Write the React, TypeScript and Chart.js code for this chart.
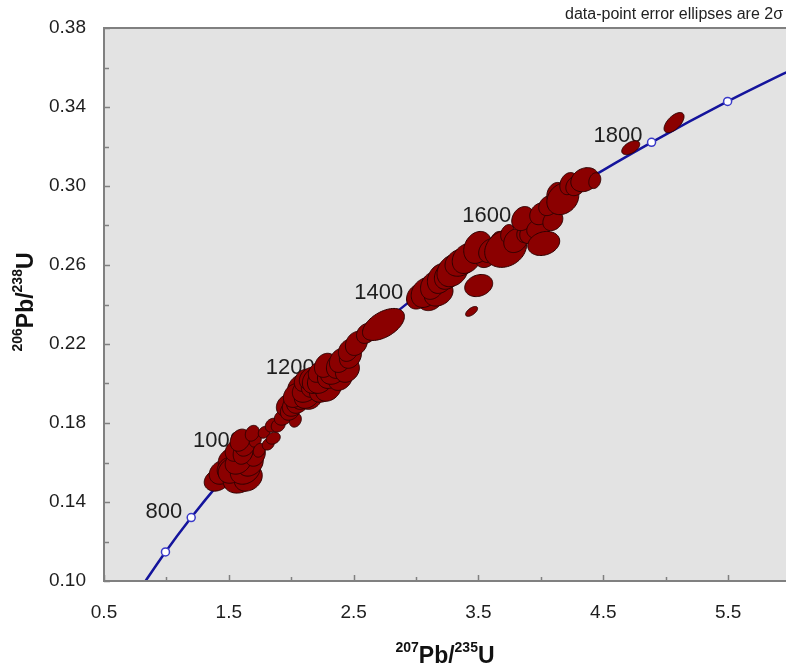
import { useEffect, useRef } from 'react';
import { Chart, registerables } from 'chart.js';

Chart.register(...registerables);

const FONT = '"Liberation Sans", Arial, Helvetica, sans-serif';

// Concordia curve nodes (age in Ma, 207Pb/235U, 206Pb/238U)
const concordiaAges = [600, 700, 800, 900, 1000, 1100, 1200, 1300, 1400, 1500, 1600, 1700, 1800, 1900, 2000];
const concordiaX = [0.8056, 0.9925, 1.1987, 1.4263, 1.6774, 1.9545, 2.2603, 2.5977, 2.9701, 3.381, 3.8346, 4.335, 4.8869, 5.4962, 6.1684];
const concordiaY = [0.0975, 0.1147, 0.1321, 0.1498, 0.1678, 0.1861, 0.2046, 0.2234, 0.2426, 0.262, 0.2817, 0.3018, 0.3221, 0.3428, 0.3638];
const labeledAges = [800, 1000, 1200, 1400, 1600, 1800];

// Data-point error ellipses: centre, 2-sigma half extents, error correlation
const ellipseX = [
  1.407, 1.447, 1.511, 1.495, 1.591, 1.656, 1.527, 1.632, 1.672, 1.575, 1.559, 1.712, 1.615, 1.632, 1.591, 1.712, 1.744, 1.688, 1.784, 1.816, 1.856,
  1.848, 1.896, 1.937, 2.033, 1.969, 1.993, 2.017, 2.057, 2.089, 2.153, 2.073, 2.033, 2.129, 2.113, 2.105, 2.177, 2.25, 2.298, 2.153, 2.193, 2.234,
  2.217, 2.314, 2.394, 2.338, 2.274, 2.378, 2.45, 2.394, 2.474, 2.458, 2.522, 2.603, 2.739,
  3.116, 3.02, 3.076, 3.181, 3.132, 3.197, 3.253, 3.293, 3.357, 3.405, 3.558, 3.494, 3.598, 3.654, 3.718, 3.734, 3.502, 3.445,
  3.799, 3.887, 3.919, 3.855, 3.983, 3.999, 4.023, 4.096, 4.063, 4.12, 4.176, 4.224, 4.28, 4.352, 4.432, 4.72, 5.067,
];
const ellipseY = [
  0.1511, 0.1551, 0.1612, 0.1571, 0.1521, 0.1521, 0.1561, 0.1561, 0.1597, 0.1602, 0.1662, 0.1637, 0.1652, 0.1688, 0.1713, 0.1713, 0.1662, 0.1748, 0.1753, 0.1693, 0.1723,
  0.1789, 0.1789, 0.1829, 0.1814, 0.189, 0.1865, 0.189, 0.1915, 0.1925, 0.1915, 0.1976, 0.194, 0.194, 0.1966, 0.2016, 0.1991, 0.1966, 0.1976, 0.2026, 0.2016, 0.2016,
  0.2057, 0.2041, 0.2026, 0.2057, 0.2092, 0.2092, 0.2067, 0.2117, 0.2138, 0.2168, 0.2203, 0.2254, 0.2299,
  0.242, 0.2441, 0.2461, 0.2456, 0.2496, 0.2532, 0.2547, 0.2572, 0.2613, 0.2633, 0.2633, 0.2689, 0.2673, 0.2714, 0.2684, 0.2759, 0.2496, 0.2365,
  0.2724, 0.2764, 0.2764, 0.2835, 0.2785, 0.286, 0.2709, 0.2825, 0.2901, 0.2962, 0.2936, 0.3012, 0.3002, 0.3032, 0.3027, 0.3194, 0.3321,
];
const ellipseErrX = [
  0.104, 0.104, 0.096, 0.088, 0.136, 0.112, 0.112, 0.12, 0.104, 0.104, 0.088, 0.08, 0.08, 0.08, 0.08, 0.048, 0.048, 0.056, 0.048, 0.048, 0.056,
  0.056, 0.056, 0.072, 0.048, 0.088, 0.08, 0.088, 0.096, 0.088, 0.088, 0.104, 0.096, 0.104, 0.104, 0.08, 0.096, 0.104, 0.104, 0.088, 0.104, 0.104,
  0.08, 0.104, 0.096, 0.104, 0.088, 0.096, 0.096, 0.088, 0.088, 0.08, 0.088, 0.08, 0.168,
  0.096, 0.096, 0.115, 0.115, 0.096, 0.106, 0.106, 0.125, 0.125, 0.115, 0.08, 0.112, 0.096, 0.064, 0.168, 0.056, 0.112, 0.048,
  0.096, 0.08, 0.088, 0.088, 0.096, 0.088, 0.128, 0.08, 0.08, 0.072, 0.128, 0.072, 0.08, 0.112, 0.048, 0.072, 0.08,
];
const ellipseErrY = [
  0.0056, 0.0061, 0.0061, 0.0056, 0.0076, 0.0066, 0.0066, 0.0071, 0.0066, 0.0061, 0.0056, 0.0056, 0.0061, 0.0056, 0.0056, 0.0035, 0.0035, 0.004, 0.003, 0.003, 0.003,
  0.0035, 0.0035, 0.004, 0.0035, 0.0056, 0.0051, 0.0056, 0.0066, 0.0056, 0.0046, 0.0071, 0.0061, 0.0066, 0.0061, 0.0056, 0.0061, 0.0061, 0.0066, 0.0056, 0.0066, 0.0066,
  0.0051, 0.0066, 0.0061, 0.0061, 0.0061, 0.0066, 0.0061, 0.0061, 0.0061, 0.0056, 0.0061, 0.0051, 0.0081,
  0.0051, 0.0064, 0.0076, 0.0064, 0.007, 0.0076, 0.007, 0.0082, 0.007, 0.0076, 0.0046, 0.0081, 0.0061, 0.0056, 0.0096, 0.0046, 0.0056, 0.0025,
  0.0061, 0.0051, 0.0056, 0.0061, 0.0051, 0.0056, 0.0061, 0.0051, 0.0051, 0.0056, 0.0081, 0.0056, 0.0051, 0.0061, 0.004, 0.0035, 0.0051,
];
const ellipseRho = [
  0.2, 0.2, 0.2, 0.2, 0.2, 0.2, 0.2, 0.2, 0.2, 0.2, 0.2, 0.2, 0.2, 0.2, 0.2, 0.2, 0.2, 0.2, 0.2, 0.2, 0.2,
  0.2, 0.2, 0.2, 0.2, 0.2, 0.2, 0.2, 0.2, 0.2, 0.2, 0.2, 0.2, 0.2, 0.2, 0.2, 0.2, 0.2, 0.2, 0.2, 0.2, 0.2,
  0.2, 0.2, 0.2, 0.2, 0.2, 0.2, 0.2, 0.2, 0.2, 0.2, 0.2, 0.2, 0.5,
  0.2, 0.2, 0.2, 0.2, 0.2, 0.2, 0.2, 0.2, 0.2, 0.2, 0.2, 0.2, 0.2, 0.2, 0.2, 0.2, 0.2, 0.6,
  0.2, 0.2, 0.2, 0.2, 0.2, 0.2, 0.2, 0.2, 0.2, 0.2, 0.2, 0.2, 0.2, 0.2, 0.2, 0.5, 0.6,
];

const AXIS_COLOR = '#808080';
const TEXT_COLOR = '#1e1e1e';

function drawRich(ctx: CanvasRenderingContext2D, parts: [string, boolean][], cx: number, cy: number, big: number, small: number) {
  let total = 0;
  const widths = parts.map(([t, sup]) => {
    ctx.font = `bold ${sup ? small : big}px ${FONT}`;
    const w = ctx.measureText(t).width;
    total += w;
    return w;
  });
  let x = cx - total / 2;
  ctx.textAlign = 'left';
  ctx.textBaseline = 'alphabetic';
  parts.forEach(([t, sup], i) => {
    ctx.font = `bold ${sup ? small : big}px ${FONT}`;
    ctx.fillText(t, x, sup ? cy - big * 0.5 : cy);
    x += widths[i];
  });
}

const concordiaPlugin = {
  id: 'concordiaPlugin',
  beforeDatasetsDraw(chart: any) {
    const { ctx, chartArea: a } = chart;
    ctx.save();
    ctx.fillStyle = '#e3e3e3';
    ctx.fillRect(a.left, a.top, a.right - a.left, a.bottom - a.top);
    ctx.restore();
  },
  afterDatasetsDraw(chart: any) {
    const { ctx, chartArea: a, scales } = chart;
    const xs = scales.x;
    const ys = scales.y;
    ctx.save();
    ctx.beginPath();
    ctx.rect(a.left, a.top, a.right - a.left, a.bottom - a.top);
    ctx.clip();

    ctx.fillStyle = TEXT_COLOR;
    ctx.font = `22px ${FONT}`;
    ctx.textAlign = 'right';
    ctx.textBaseline = 'alphabetic';
    labeledAges.forEach((age) => {
      const i = concordiaAges.indexOf(age);
      if (i < 0) return;
      const px = xs.getPixelForValue(concordiaX[i]);
      const py = ys.getPixelForValue(concordiaY[i]);
      ctx.fillText(String(age), px - 9, py);
    });

    const n = Math.min(ellipseX.length, ellipseY.length, ellipseErrX.length, ellipseErrY.length, ellipseRho.length);
    ctx.fillStyle = '#8b0000';
    ctx.strokeStyle = '#2e0000';
    ctx.lineWidth = 1;
    for (let i = 0; i < n; i++) {
      const rho = ellipseRho[i];
      const q = Math.sqrt(1 - rho * rho);
      ctx.beginPath();
      for (let k = 0; k <= 72; k++) {
        const t = (k / 72) * Math.PI * 2;
        const c = Math.cos(t);
        const s = Math.sin(t);
        const vx = ellipseX[i] + ellipseErrX[i] * c;
        const vy = ellipseY[i] + ellipseErrY[i] * (rho * c + q * s);
        const px = xs.getPixelForValue(vx);
        const py = ys.getPixelForValue(vy);
        if (k === 0) ctx.moveTo(px, py);
        else ctx.lineTo(px, py);
      }
      ctx.closePath();
      ctx.fill();
      ctx.stroke();
    }
    ctx.restore();
  },
  afterDraw(chart: any) {
    const { ctx, chartArea: a, scales } = chart;
    const xs = scales.x;
    const ys = scales.y;
    ctx.save();
    ctx.strokeStyle = AXIS_COLOR;
    ctx.lineWidth = 2;
    ctx.beginPath();
    ctx.moveTo(a.right + 2, a.top);
    ctx.lineTo(a.left, a.top);
    ctx.lineTo(a.left, a.bottom);
    ctx.lineTo(a.right + 2, a.bottom);
    ctx.stroke();

    ctx.lineWidth = 1.5;
    ctx.beginPath();
    xs.ticks.forEach((t: any, i: number) => {
      const px = Math.round(xs.getPixelForValue(t.value)) + 0.5;
      const len = i % 2 === 0 ? 6 : 4;
      ctx.moveTo(px, a.bottom);
      ctx.lineTo(px, a.bottom - len);
    });
    ys.ticks.forEach((t: any, i: number) => {
      const py = Math.round(ys.getPixelForValue(t.value)) + 0.5;
      const len = i % 2 === 0 ? 6 : 5;
      ctx.moveTo(a.left, py);
      ctx.lineTo(a.left + len, py);
    });
    ctx.stroke();

    ctx.fillStyle = '#111';
    drawRich(ctx, [['207', true], ['Pb/', false], ['235', true], ['U', false]], 445, 663, 23, 14);
    ctx.save();
    ctx.translate(33, 302);
    ctx.rotate(-Math.PI / 2);
    drawRich(ctx, [['206', true], ['Pb/', false], ['238', true], ['U', false]], 0, 0, 23, 14);
    ctx.restore();

    ctx.fillStyle = '#222';
    ctx.font = `16px ${FONT}`;
    ctx.textAlign = 'right';
    ctx.textBaseline = 'alphabetic';
    ctx.fillText('data-point error ellipses are 2σ', 783, 19);
    ctx.restore();
  },
};

export default function App() {
  const canvasRef = useRef<HTMLCanvasElement | null>(null);

  useEffect(() => {
    if (!canvasRef.current) return;
    const data = concordiaX.map((x, i) => ({ x, y: concordiaY[i] }));
    const chart = new Chart(canvasRef.current, {
      type: 'scatter',
      data: {
        datasets: [
          {
            data,
            showLine: true,
            borderColor: '#14149c',
            borderWidth: 2.5,
            cubicInterpolationMode: 'monotone',
            pointRadius: 4,
            pointBackgroundColor: '#ffffff',
            pointBorderColor: '#3a3ac8',
            pointBorderWidth: 1.5,
            clip: 0,
          } as any,
        ],
      },
      options: {
        animation: false,
        responsive: false,
        events: [],
        layout: { padding: { top: 28, left: 0, right: 0, bottom: 0 } },
        plugins: { legend: { display: false }, tooltip: { enabled: false } },
        scales: {
          x: {
            type: 'linear',
            min: 0.5,
            max: 6.0,
            grid: { display: false, drawTicks: false },
            border: { display: false },
            ticks: {
              stepSize: 0.5,
              padding: 20,
              color: TEXT_COLOR,
              font: { family: FONT, size: 19 },
              autoSkip: false,
              maxRotation: 0,
              callback: (v: any, i: number) => (i % 2 === 0 ? Number(v).toFixed(1) : ''),
            },
            afterFit: (s: any) => {
              s.height = 90;
              s.paddingLeft = 0;
              s.paddingRight = 0;
            },
          },
          y: {
            type: 'linear',
            min: 0.1,
            max: 0.38,
            grid: { display: false, drawTicks: false },
            border: { display: false },
            ticks: {
              stepSize: 0.02,
              padding: 18,
              color: TEXT_COLOR,
              font: { family: FONT, size: 19 },
              autoSkip: false,
              callback: (v: any, i: number) => (i % 2 === 0 ? Number(v).toFixed(2) : ''),
            },
            afterFit: (s: any) => {
              s.width = 104;
              s.paddingTop = 0;
              s.paddingBottom = 0;
            },
          },
        },
      },
      plugins: [concordiaPlugin],
    });
    return () => chart.destroy();
  }, []);

  return (
    <div style={{ position: 'fixed', left: 0, top: 0, width: 786, height: 671, overflow: 'hidden', background: '#fff' }}>
      <canvas ref={canvasRef} width={796} height={671} style={{ display: 'block', width: 796, height: 671 }} />
    </div>
  );
}
